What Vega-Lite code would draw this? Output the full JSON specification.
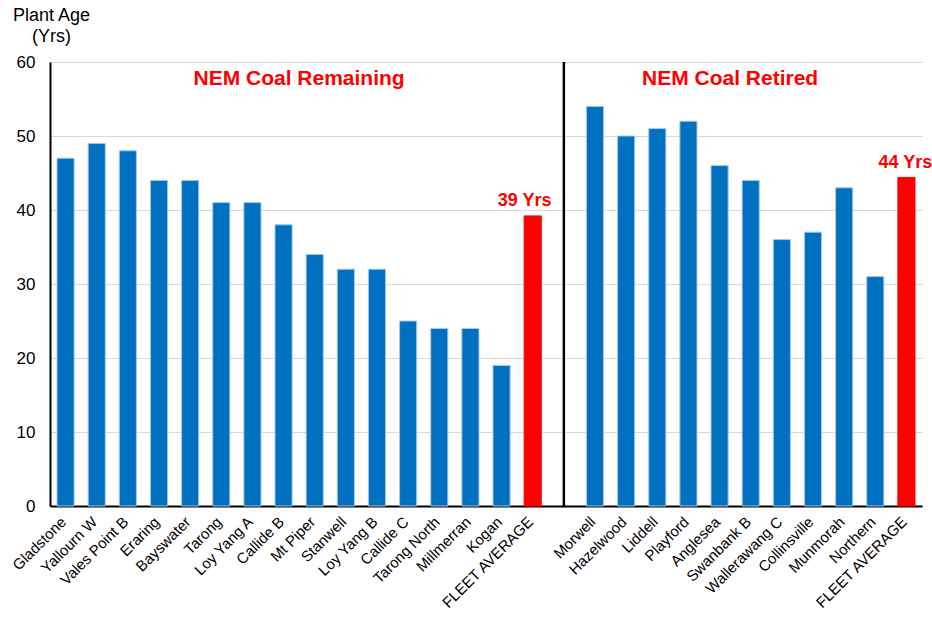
{
  "$schema": "https://vega.github.io/schema/vega-lite/v6.json",
  "width": 872,
  "height": 444,
  "autosize": {"type": "none"},
  "padding": {"left": 50, "top": 62, "right": 10, "bottom": 111},
  "background": "white",
  "config": {
    "font": "Liberation Sans",
    "view": {"stroke": null},
    "axis": {"labelColor": "black", "titleColor": "black"}
  },
  "datasets": {
    "plants": [
      {"key": "Gladstone", "kind": "plant", "value": 47},
      {"key": "Yallourn W", "kind": "plant", "value": 49},
      {"key": "Vales Point B", "kind": "plant", "value": 48},
      {"key": "Eraring", "kind": "plant", "value": 44},
      {"key": "Bayswater", "kind": "plant", "value": 44},
      {"key": "Tarong", "kind": "plant", "value": 41},
      {"key": "Loy Yang A", "kind": "plant", "value": 41},
      {"key": "Callide B", "kind": "plant", "value": 38},
      {"key": "Mt Piper", "kind": "plant", "value": 34},
      {"key": "Stanwell", "kind": "plant", "value": 32},
      {"key": "Loy Yang B", "kind": "plant", "value": 32},
      {"key": "Callide C", "kind": "plant", "value": 25},
      {"key": "Tarong North", "kind": "plant", "value": 24},
      {"key": "Millmerran", "kind": "plant", "value": 24},
      {"key": "Kogan", "kind": "plant", "value": 19},
      {"key": "FLEET AVERAGE|remaining", "kind": "average", "group": "remaining", "value": 39.2},
      {"key": "|gap", "kind": "gap", "value": null},
      {"key": "Morwell", "kind": "plant", "value": 54},
      {"key": "Hazelwood", "kind": "plant", "value": 50},
      {"key": "Liddell", "kind": "plant", "value": 51},
      {"key": "Playford", "kind": "plant", "value": 52},
      {"key": "Anglesea", "kind": "plant", "value": 46},
      {"key": "Swanbank B", "kind": "plant", "value": 44},
      {"key": "Wallerawang C", "kind": "plant", "value": 36},
      {"key": "Collinsville", "kind": "plant", "value": 37},
      {"key": "Munmorah", "kind": "plant", "value": 43},
      {"key": "Northern", "kind": "plant", "value": 31},
      {"key": "FLEET AVERAGE|retired", "kind": "average", "group": "retired", "value": 44.4}
    ],
    "sections": [
      {"section": "NEM Coal Remaining", "key": "Callide B", "y": 57.8},
      {"section": "NEM Coal Retired", "key": "Anglesea", "y": 57.8}
    ]
  },
  "encoding": {
    "x": {
      "field": "key",
      "type": "nominal",
      "scale": {
        "domain": ["Gladstone", "Yallourn W", "Vales Point B", "Eraring", "Bayswater", "Tarong", "Loy Yang A", "Callide B", "Mt Piper", "Stanwell", "Loy Yang B", "Callide C", "Tarong North", "Millmerran", "Kogan", "FLEET AVERAGE|remaining", "|gap", "Morwell", "Hazelwood", "Liddell", "Playford", "Anglesea", "Swanbank B", "Wallerawang C", "Collinsville", "Munmorah", "Northern", "FLEET AVERAGE|retired"],
        "paddingInner": 0.45,
        "paddingOuter": 0.225
      },
      "axis": {
        "title": null,
        "labelAngle": -45,
        "labelFontSize": 15,
        "labelPadding": 8,
        "labelOffset": -7,
        "ticks": false,
        "domainColor": "black",
        "domainWidth": 2,
        "labelExpr": "indexof(datum.label, '|') >= 0 ? slice(datum.label, 0, indexof(datum.label, '|')) : datum.label"
      }
    }
  },
  "layer": [
    {
      "data": {"name": "plants"},
      "transform": [{"filter": "datum.kind !== 'gap'"}],
      "mark": {"type": "bar", "strokeWidth": 1},
      "encoding": {
        "y": {
          "field": "value",
          "type": "quantitative",
          "scale": {"domain": [0, 60], "nice": false},
          "axis": {
            "values": [0, 10, 20, 30, 40, 50, 60],
            "title": ["Plant Age", "(Yrs)"],
            "titleAngle": 0,
            "titleAlign": "center",
            "titleBaseline": "alphabetic",
            "titleX": 1,
            "titleY": -42,
            "titleFontSize": 18,
            "titleFontWeight": "normal",
            "titleLineHeight": 21,
            "labelFontSize": 17,
            "labelPadding": 15,
            "ticks": false,
            "tickSize": 0,
            "grid": true,
            "gridColor": "#d9d9d9",
            "gridWidth": 1,
            "domainColor": "black",
            "domainWidth": 2
          }
        },
        "fill": {
          "field": "kind",
          "type": "nominal",
          "scale": {"domain": ["plant", "average"], "range": ["#0070C0", "#FF0000"]},
          "legend": null
        },
        "stroke": {
          "field": "kind",
          "type": "nominal",
          "scale": {"domain": ["plant", "average"], "range": ["#a6c9ea", "#FF0000"]},
          "legend": null
        }
      }
    },
    {
      "data": {"name": "plants"},
      "transform": [{"filter": "datum.kind === 'gap'"}],
      "mark": {"type": "rule", "color": "black", "strokeWidth": 2.5},
      "encoding": {
        "y": {"datum": 0, "type": "quantitative"},
        "y2": {"datum": 60}
      }
    },
    {
      "data": {"name": "plants"},
      "transform": [
        {"filter": "datum.group === 'remaining'"},
        {"calculate": "format(datum.value, '.0f') + ' Yrs'", "as": "label"}
      ],
      "mark": {"type": "text", "fontSize": 18, "fontWeight": "bold", "baseline": "alphabetic", "dy": -10, "dx": -8, "fill": "white", "stroke": "white", "strokeWidth": 7, "strokeJoin": "round"},
      "encoding": {
        "y": {"field": "value", "type": "quantitative"},
        "text": {"field": "label"}
      }
    },
    {
      "data": {"name": "plants"},
      "transform": [
        {"filter": "datum.group === 'remaining'"},
        {"calculate": "format(datum.value, '.0f') + ' Yrs'", "as": "label"}
      ],
      "mark": {"type": "text", "fontSize": 18, "fontWeight": "bold", "baseline": "alphabetic", "dy": -10, "dx": -8, "color": "#FF0000"},
      "encoding": {
        "y": {"field": "value", "type": "quantitative"},
        "text": {"field": "label"}
      }
    },
    {
      "data": {"name": "plants"},
      "transform": [
        {"filter": "datum.group === 'retired'"},
        {"calculate": "format(datum.value, '.0f') + ' Yrs'", "as": "label"}
      ],
      "mark": {"type": "text", "fontSize": 18, "fontWeight": "bold", "baseline": "alphabetic", "dy": -9, "dx": -1, "color": "#FF0000"},
      "encoding": {
        "y": {"field": "value", "type": "quantitative"},
        "text": {"field": "label"}
      }
    },
    {
      "data": {"name": "sections"},
      "transform": [{"filter": "datum.section === 'NEM Coal Remaining'"}],
      "mark": {"type": "text", "fontSize": 21, "fontWeight": "bold", "baseline": "middle", "dx": 15.5, "dy": 1, "color": "#FF0000"},
      "encoding": {
        "y": {"field": "y", "type": "quantitative"},
        "text": {"field": "section"}
      }
    },
    {
      "data": {"name": "sections"},
      "transform": [{"filter": "datum.section === 'NEM Coal Retired'"}],
      "mark": {"type": "text", "fontSize": 21, "fontWeight": "bold", "baseline": "middle", "dx": 10.5, "dy": 1, "color": "#FF0000"},
      "encoding": {
        "y": {"field": "y", "type": "quantitative"},
        "text": {"field": "section"}
      }
    }
  ]
}
